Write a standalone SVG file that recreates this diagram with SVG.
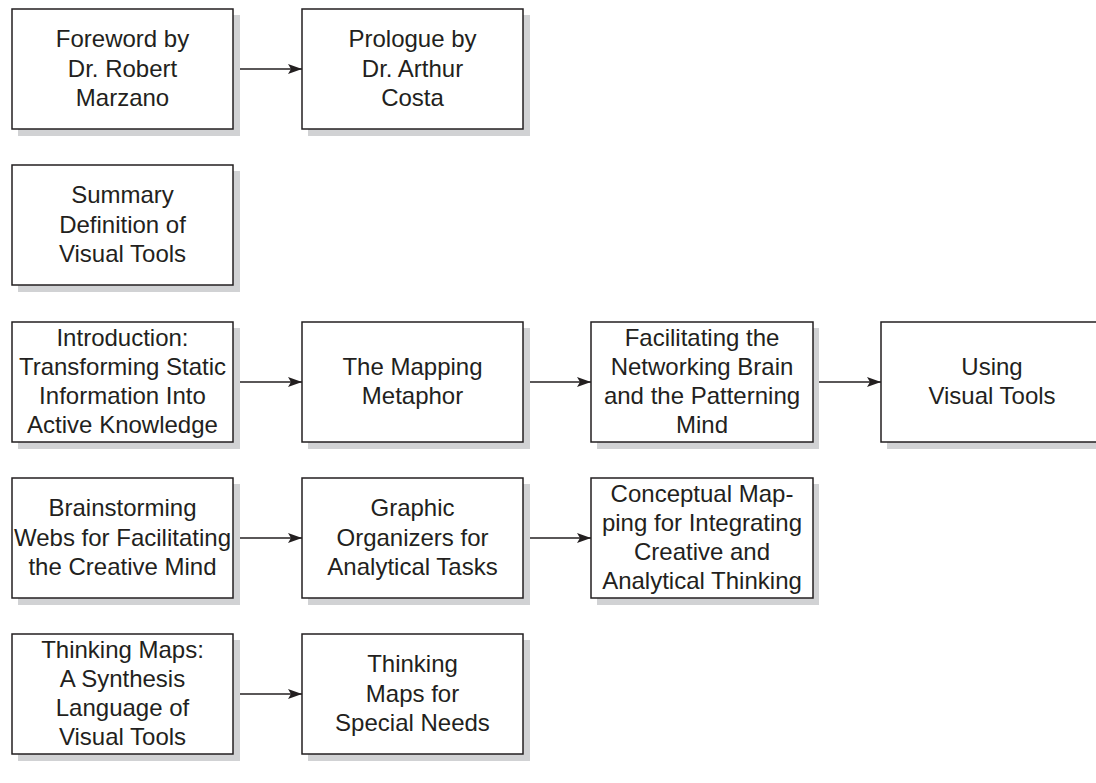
<svg xmlns="http://www.w3.org/2000/svg" width="1096" height="783" viewBox="0 0 1096 783">
<style>
.sh{fill:#d1d2d4}
.bx{fill:#fff;stroke:#231f20;stroke-width:1.5}
.t{font-family:"Liberation Sans",Arial,sans-serif;font-size:24px;fill:#231f20;text-anchor:middle}
.c{stroke:#231f20;stroke-width:1.5;fill:none;marker-end:url(#ah)}
</style>
<defs>
<marker id="ah" viewBox="0 0 14 10" refX="14" refY="5" markerWidth="14" markerHeight="10" markerUnits="userSpaceOnUse" orient="auto">
<path d="M0,0 L14,5 L0,10 L3,5 Z" fill="#231f20"/>
</marker>
</defs>
<rect width="1096" height="783" fill="#fff"/>
<g id="connectors">
<line class="c" x1="233" y1="69" x2="302" y2="69"/>
<line class="c" x1="233" y1="382" x2="302" y2="382"/>
<line class="c" x1="523" y1="382" x2="591" y2="382"/>
<line class="c" x1="813" y1="382" x2="881" y2="382"/>
<line class="c" x1="233" y1="538" x2="302" y2="538"/>
<line class="c" x1="523" y1="538" x2="591" y2="538"/>
<line class="c" x1="233" y1="694" x2="302" y2="694"/>
</g>
<g id="foreword">
<rect class="sh" x="18" y="15" width="222" height="121"/>
<rect class="bx" x="12" y="9" width="221" height="120"/>
<text class="t"><tspan x="122.5" y="47">Foreword by</tspan><tspan x="122.5" y="76.5">Dr. Robert</tspan><tspan x="122.5" y="106">Marzano</tspan></text>
</g>
<g id="prologue">
<rect class="sh" x="308" y="15" width="222" height="121"/>
<rect class="bx" x="302" y="9" width="221" height="120"/>
<text class="t"><tspan x="412.5" y="47">Prologue by</tspan><tspan x="412.5" y="76.5">Dr. Arthur</tspan><tspan x="412.5" y="106">Costa</tspan></text>
</g>
<g id="summary">
<rect class="sh" x="18" y="171" width="222" height="121"/>
<rect class="bx" x="12" y="165" width="221" height="120"/>
<text class="t"><tspan x="122.5" y="203">Summary</tspan><tspan x="122.5" y="232.5">Definition of</tspan><tspan x="122.5" y="262">Visual Tools</tspan></text>
</g>
<g id="introduction">
<rect class="sh" x="18" y="328" width="222" height="121"/>
<rect class="bx" x="12" y="322" width="221" height="120"/>
<text class="t"><tspan x="122.5" y="346">Introduction:</tspan><tspan x="122.5" y="375">Transforming Static</tspan><tspan x="122.5" y="404">Information Into</tspan><tspan x="122.5" y="433">Active Knowledge</tspan></text>
</g>
<g id="mapping">
<rect class="sh" x="308" y="328" width="222" height="121"/>
<rect class="bx" x="302" y="322" width="221" height="120"/>
<text class="t"><tspan x="412.5" y="375">The Mapping</tspan><tspan x="412.5" y="404">Metaphor</tspan></text>
</g>
<g id="facilitating">
<rect class="sh" x="597" y="328" width="222" height="121"/>
<rect class="bx" x="591" y="322" width="222" height="120"/>
<text class="t"><tspan x="702" y="346">Facilitating the</tspan><tspan x="702" y="375">Networking Brain</tspan><tspan x="702" y="404">and the Patterning</tspan><tspan x="702" y="433">Mind</tspan></text>
</g>
<g id="using">
<rect class="sh" x="887" y="328" width="222" height="121"/>
<rect class="bx" x="881" y="322" width="222" height="120"/>
<text class="t"><tspan x="992" y="375">Using</tspan><tspan x="992" y="404">Visual Tools</tspan></text>
</g>
<g id="brainstorming">
<rect class="sh" x="18" y="484" width="222" height="121"/>
<rect class="bx" x="12" y="478" width="221" height="120"/>
<text class="t"><tspan x="122.5" y="516">Brainstorming</tspan><tspan x="122.5" y="545.5">Webs for Facilitating</tspan><tspan x="122.5" y="575">the Creative Mind</tspan></text>
</g>
<g id="graphic">
<rect class="sh" x="308" y="484" width="222" height="121"/>
<rect class="bx" x="302" y="478" width="221" height="120"/>
<text class="t"><tspan x="412.5" y="516">Graphic</tspan><tspan x="412.5" y="545.5">Organizers for</tspan><tspan x="412.5" y="575">Analytical Tasks</tspan></text>
</g>
<g id="conceptual">
<rect class="sh" x="597" y="484" width="222" height="121"/>
<rect class="bx" x="591" y="478" width="222" height="120"/>
<text class="t"><tspan x="702" y="502">Conceptual Map-</tspan><tspan x="702" y="531">ping for Integrating</tspan><tspan x="702" y="560">Creative and</tspan><tspan x="702" y="589">Analytical Thinking</tspan></text>
</g>
<g id="thinkingmaps">
<rect class="sh" x="18" y="640" width="222" height="121"/>
<rect class="bx" x="12" y="634" width="221" height="120"/>
<text class="t"><tspan x="122.5" y="658">Thinking Maps:</tspan><tspan x="122.5" y="687">A Synthesis</tspan><tspan x="122.5" y="716">Language of</tspan><tspan x="122.5" y="745">Visual Tools</tspan></text>
</g>
<g id="specialneeds">
<rect class="sh" x="308" y="640" width="222" height="121"/>
<rect class="bx" x="302" y="634" width="221" height="120"/>
<text class="t"><tspan x="412.5" y="672">Thinking</tspan><tspan x="412.5" y="701.5">Maps for</tspan><tspan x="412.5" y="731">Special Needs</tspan></text>
</g>
</svg>
